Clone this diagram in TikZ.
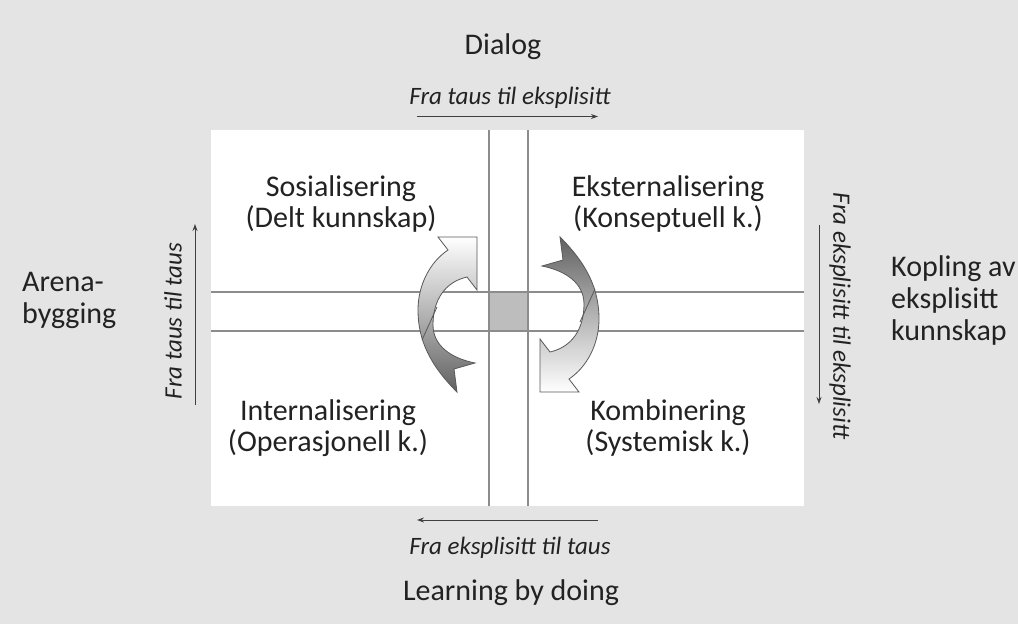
\documentclass[tikz,border=0pt]{standalone}
\usepackage{fontspec}
\setmainfont{Carlito}
\usetikzlibrary{arrows.meta}
\definecolor{bg}{HTML}{E4E4E4}
\definecolor{txt}{HTML}{222222}
\definecolor{gridc}{HTML}{8C8C8C}
\definecolor{sq}{HTML}{BDBDBD}
\begin{document}
\begin{tikzpicture}[x=1pt,y=-1pt,
  lbl/.style={text=txt,font=\fontsize{30}{31.5}\selectfont,inner sep=0pt,align=center},
  side/.style={text=txt,font=\fontsize{30}{32}\selectfont,inner sep=0pt,align=left},
  dirlbl/.style={text=txt,font=\fontsize{25}{27}\selectfont\itshape,inner sep=0pt},
  gridline/.style={draw=gridc,line width=1.4pt},
  dirarrow/.style={draw=black!75,line width=0.9pt,-{Stealth[length=7pt,width=5pt]}},
  cyc/.style={draw=black!65,line width=0.8pt}]
\useasboundingbox (0,0) rectangle (1018,624);
\fill[bg] (0,0) rectangle (1018,624);
\fill[white] (211,130) rectangle (804,506);
% grid
\fill[sq] (489,292) rectangle (528,331);
\draw[gridline] (489,130) -- (489,506);
\draw[gridline] (528,130) -- (528,506);
\draw[gridline] (211,292) -- (804,292);
\draw[gridline] (211,331) -- (804,331);
% cycle arrows
\newcommand{\cyclearrow}{(477,237) -- (477,290) -- (467,277)
   .. controls (445,282) and (433,300) .. (433,325)
   .. controls (433,345) and (450,358) .. (475,363)
   -- (454,369) -- (457,392)
   .. controls (430,365) and (418,340) .. (418,310)
   .. controls (418,285) and (430,262) .. (448,250)
   -- (438,237) -- cycle}
\path[cyc,top color=white,bottom color=black!62,middle color=black!30] \cyclearrow;
\draw[cyc] (422,340) -- (437,307);
\begin{scope}[rotate around={180:(508.5,314.5)}]
\path[cyc,top color=black!62,bottom color=white,middle color=black!30] \cyclearrow;
\draw[cyc] (422,340) -- (437,307);
\end{scope}
% texts
\node[lbl] (dialog) at (503,47) {Dialog};
\node[dirlbl] (ttop) at (510,98) {Fra taus til eksplisitt};
\coordinate (ta1) at (417,116.5);
\coordinate (ta2) at (598,116.5);
\draw[dirarrow] (ta1) -- (ta2);
\node[dirlbl] (tbot) at (510,548) {Fra eksplisitt til taus};
\coordinate (ba1) at (598,520);
\coordinate (ba2) at (417,520);
\draw[dirarrow] (ba1) -- (ba2);
\node[lbl] (learn) at (511,593) {Learning by doing};
\node[dirlbl,rotate=90] (tleft) at (173,321) {Fra taus til taus};
\coordinate (la1) at (195,405);
\coordinate (la2) at (195,224);
\draw[dirarrow] (la1) -- (la2);
\node[dirlbl,rotate=-90] (tright) at (840,316) {Fra eksplisitt til eksplisitt};
\coordinate (ra1) at (819,225);
\coordinate (ra2) at (819,404);
\draw[dirarrow] (ra1) -- (ra2);
\node[lbl] (sos) at (341,204) {Sosialisering\\(Delt kunnskap)};
\node[lbl] (eks) at (668,204) {Eksternalisering\\(Konseptuell k.)};
\node[lbl] (int) at (328,428) {Internalisering\\(Operasjonell k.)};
\node[lbl] (kom) at (668,428) {Kombinering\\(Systemisk k.)};
\node[side,anchor=west] (arena) at (22,300) {Arena-\\bygging};
\node[side,anchor=west] (kopl) at (891,300) {Kopling av\\eksplisitt\\kunnskap};
\end{tikzpicture}
\end{document}
